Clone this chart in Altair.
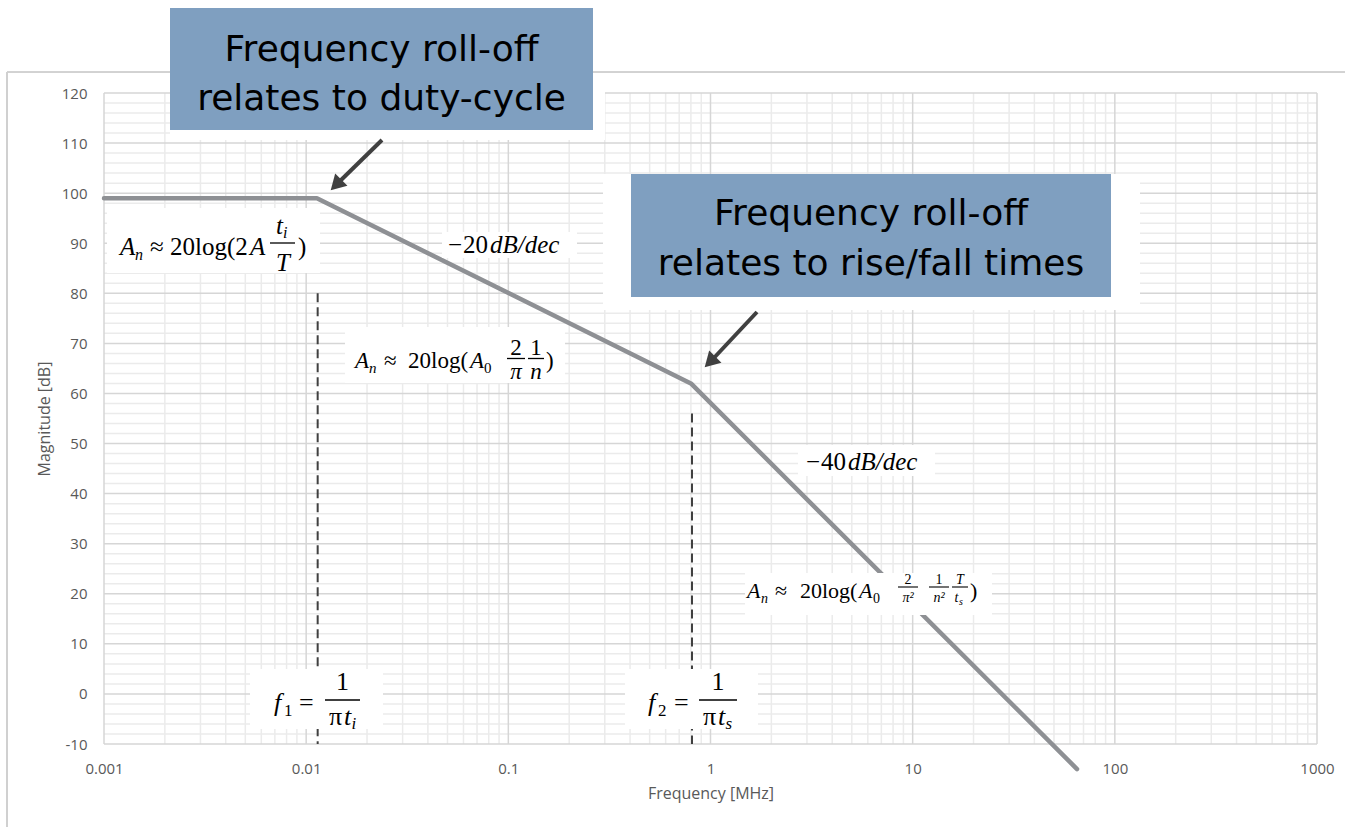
import altair as alt
import pandas as pd

# ---------------- data ----------------
freq_mhz = [0.001, 0.0113, 0.8, 65]
magnitude_db = [99, 99, 62, -15]

marker_freq = [0.0114, 0.81]      # f1, f2 dashed markers
marker_top = [80, 56]
marker_bottom = [-10, -10]

x_major = [0.001, 0.01, 0.1, 1, 10, 100, 1000]
y_major = list(range(-10, 121, 10))
y_minor = [v for v in range(-8, 120, 2) if v % 10]
x_minor = [round(m * d, 6) for d in x_major[:-1] for m in range(2, 10)]

# ---------------- layout constants ----------------
OX, OY = 104, 93
W, H = 1213, 651
MATH = "Liberation Serif"
SANS = "DejaVu Sans"
LAB = "Open Sans"

xs = alt.Scale(type="log", domain=[0.001, 1000], nice=False)
ys = alt.Scale(domain=[-10, 120], nice=False, zero=False)

X_AX = alt.Axis(
    values=x_major, format="~g", title="Frequency [MHz]", grid=False, ticks=False, domain=False,
    labelFont=LAB, labelFontSize=15, labelColor="#595959", labelPadding=17, labelFlush=False,
    labelOverlap=False, titleFont=LAB, titleFontSize=16, titleFontWeight="normal",
    titleColor="#595959", titlePadding=9)
Y_AX = alt.Axis(
    values=y_major, title="Magnitude [dB]", grid=False, ticks=False, domain=False,
    labelExpr="datum.value < 0 ? '-' + abs(datum.value) : datum.label",
    labelFont=LAB, labelFontSize=15, labelColor="#595959", labelPadding=17,
    labelOverlap=False, titleFont=LAB, titleFontSize=16, titleFontWeight="normal",
    titleColor="#595959", titlePadding=9)


def X(field="freq"):
    return alt.X(f"{field}:Q", scale=xs, axis=X_AX, title="Frequency [MHz]")


def Y(field="mag"):
    return alt.Y(f"{field}:Q", scale=ys, axis=Y_AX, title="Magnitude [dB]")


dummy = pd.DataFrame({"k": [0]})


def txt(x, y, s, size=23, italic=False, align="left", font=MATH, color="#000000"):
    return alt.Chart(dummy).mark_text(
        text=s, font=font, fontSize=size,
        fontStyle="italic" if italic else "normal",
        align=align, baseline="alphabetic", color=color,
    ).encode(x=alt.value(x - OX), y=alt.value(y - OY))


def box(x1, y1, x2, y2, color):
    return alt.Chart(dummy).mark_rect(color=color, opacity=1).encode(
        x=alt.value(x1 - OX), x2=alt.value(x2 - OX),
        y=alt.value(y1 - OY), y2=alt.value(y2 - OY))


def seg(x1, y1, x2, y2, color="#000000", width=1.3, cap="butt"):
    return alt.Chart(dummy).mark_rule(color=color, strokeWidth=width, strokeCap=cap).encode(
        x=alt.value(x1 - OX), x2=alt.value(x2 - OX),
        y=alt.value(y1 - OY), y2=alt.value(y2 - OY))


def head(x, y, angle, color="#404040", size=300):
    return alt.Chart(dummy).mark_point(
        shape="triangle-up", filled=True, color=color, size=size, angle=angle, opacity=1
    ).encode(x=alt.value(x - OX), y=alt.value(y - OY))


# ---------------- grid ----------------
gx_minor = alt.Chart(pd.DataFrame({"freq": x_minor})).mark_rule(color="#ebebeb", strokeWidth=1.5).encode(x=X())
gy_minor = alt.Chart(pd.DataFrame({"mag": y_minor})).mark_rule(color="#ebebeb", strokeWidth=1.5).encode(y=Y())
gx_major = alt.Chart(pd.DataFrame({"freq": x_major})).mark_rule(color="#d6d6d6", strokeWidth=1.5).encode(x=X())
gy_major = alt.Chart(pd.DataFrame({"mag": y_major})).mark_rule(color="#d6d6d6", strokeWidth=1.5).encode(y=Y())

frame = [seg(7, 72, 1345, 72, "#a6a6a6", 1), seg(7, 72, 7, 827, "#d0d0d0", 2)]
surrounds = [box(170, 60, 605, 140, "#ffffff"), box(603, 174, 1140, 310, "#ffffff")]

dash_df = pd.DataFrame({"freq": marker_freq, "mag": marker_top, "mag2": marker_bottom})
dashes = alt.Chart(dash_df).mark_rule(color="#404040", strokeWidth=2, strokeDash=[9, 5]).encode(
    x=X(), y=Y(), y2="mag2:Q")

line_df = pd.DataFrame({"freq": freq_mhz, "mag": magnitude_db})
main = alt.Chart(line_df).mark_line(
    color="#8e9094", strokeWidth=4.5, strokeCap="round", strokeJoin="round"
).encode(x=X(), y=Y(), order=alt.Order("freq:Q"))

# ---------------- formula boxes ----------------
wb = [
    box(107, 208, 320, 273, "#ffffff"),
    box(442, 232, 577, 258, "#ffffff"),
    box(345, 327, 565, 383, "#ffffff"),
    box(798, 445, 935, 476, "#ffffff"),
    box(745, 573, 992, 615, "#ffffff"),
    box(250, 669, 383, 729, "#ffffff"),
    box(625, 669, 758, 729, "#ffffff"),
]

f = []
# A_n ≈ 20log(2A t_i/T)
f += [txt(120, 255, "A", 25, italic=True), txt(135, 260, "n", 16, italic=True),
      txt(150, 255, "≈", 25), txt(170, 255, "20log(2", 25), txt(250, 255, "A", 25, italic=True),
      txt(276, 234, "t", 25, italic=True), txt(283, 238, "i", 16, italic=True),
      seg(270, 243, 295, 243), txt(283, 271, "T", 25, italic=True, align="center"),
      txt(298, 255, ")", 25)]
# −20dB/dec
f += [txt(448, 253, "−", 25), txt(463, 253, "20", 25), txt(490, 253, "dB/dec", 25, italic=True)]
# A_n ≈ 20log(A0 2/π 1/n)
f += [txt(355, 368, "A", italic=True), txt(369, 373, "n", 15, italic=True),
      txt(384, 368, "≈"), txt(408, 368, "20log("), txt(470, 368, "A", italic=True),
      txt(484, 373, "0", 15),
      txt(516, 355, "2", align="center"), seg(507, 358.5, 525, 358.5),
      txt(516, 379, "π", italic=True, align="center"),
      txt(536, 355, "1", align="center"), seg(528, 358.5, 544, 358.5),
      txt(536, 379, "n", italic=True, align="center"),
      txt(546, 368, ")")]
# −40dB/dec
f += [txt(806, 470, "−", 25), txt(821, 470, "40", 25), txt(848, 470, "dB/dec", 25, italic=True)]
# A_n ≈ 20log(A0 2/π² 1/n² T/ts)
f += [txt(747, 598, "A", 22, italic=True), txt(761, 603, "n", 14, italic=True),
      txt(775, 598, "≈", 22), txt(800, 598, "20log(", 22), txt(859, 598, "A", 22, italic=True),
      txt(873, 603, "0", 14),
      txt(908, 584, "2", 14, align="center"), seg(898, 587, 918, 587, "#000000", 1.1),
      txt(908, 602, "π²", 14, italic=True, align="center"),
      txt(939, 584, "1", 14, align="center"), seg(929, 587, 949, 587, "#000000", 1.1),
      txt(939, 602, "n²", 14, italic=True, align="center"),
      txt(960, 584, "T", 14, italic=True, align="center"), seg(952, 587, 968, 587, "#000000", 1.1),
      txt(954.5, 602, "t", 14, italic=True), txt(959, 605, "s", 10, italic=True),
      txt(970, 598, ")", 22)]
# f1 = 1/(π t_i)
f += [txt(274, 711, "f", 26, italic=True), txt(284, 716, "1", 17),
      txt(299, 711, "=", 26), seg(325, 700, 360, 700, "#000000", 1.5),
      txt(342.5, 690, "1", 26, align="center"),
      txt(329, 725, "π", 26), txt(344, 725, "t", 26, italic=True), txt(351.5, 729, "i", 17, italic=True)]
# f2 = 1/(π t_s)
f += [txt(648, 711, "f", 26, italic=True), txt(658, 716, "2", 17),
      txt(674, 711, "=", 26), seg(699, 700, 737, 700, "#000000", 1.5),
      txt(718, 690, "1", 26, align="center"),
      txt(703, 725, "π", 26), txt(718, 725, "t", 26, italic=True), txt(725.5, 729, "s", 17, italic=True)]

# ---------------- callouts ----------------
BLUE = "#7f9fc0"
callouts = [
    box(170, 8, 593, 130, BLUE),
    txt(381.5, 61, "Frequency roll-off", 36, font=SANS, align="center"),
    txt(381.5, 110, "relates to duty-cycle", 36, font=SANS, align="center"),
    box(631, 174, 1111, 297, BLUE),
    txt(871, 225, "Frequency roll-off", 36, font=SANS, align="center"),
    txt(871, 275, "relates to rise/fall times", 36, font=SANS, align="center"),
]

arrows = [
    seg(382, 140, 338, 183, "#404040", 4),
    head(336, 185, 225),
    seg(757, 312, 712, 360, "#404040", 4),
    head(710, 362, 225),
]

layers = [gx_minor, gy_minor, gx_major, gy_major] + surrounds + frame + [dashes, main] + wb + f + callouts + arrows

chart = alt.layer(*layers).properties(
    width=W, height=H,
    autosize=alt.AutoSizeParams(type="none"),
    padding={"left": OX, "top": OY, "right": 1345 - OX - W, "bottom": 827 - OY - H},
    background="#ffffff",
).configure_view(strokeWidth=0)

chart.save("out.html", embed_options={"renderer": "svg", "actions": False})
